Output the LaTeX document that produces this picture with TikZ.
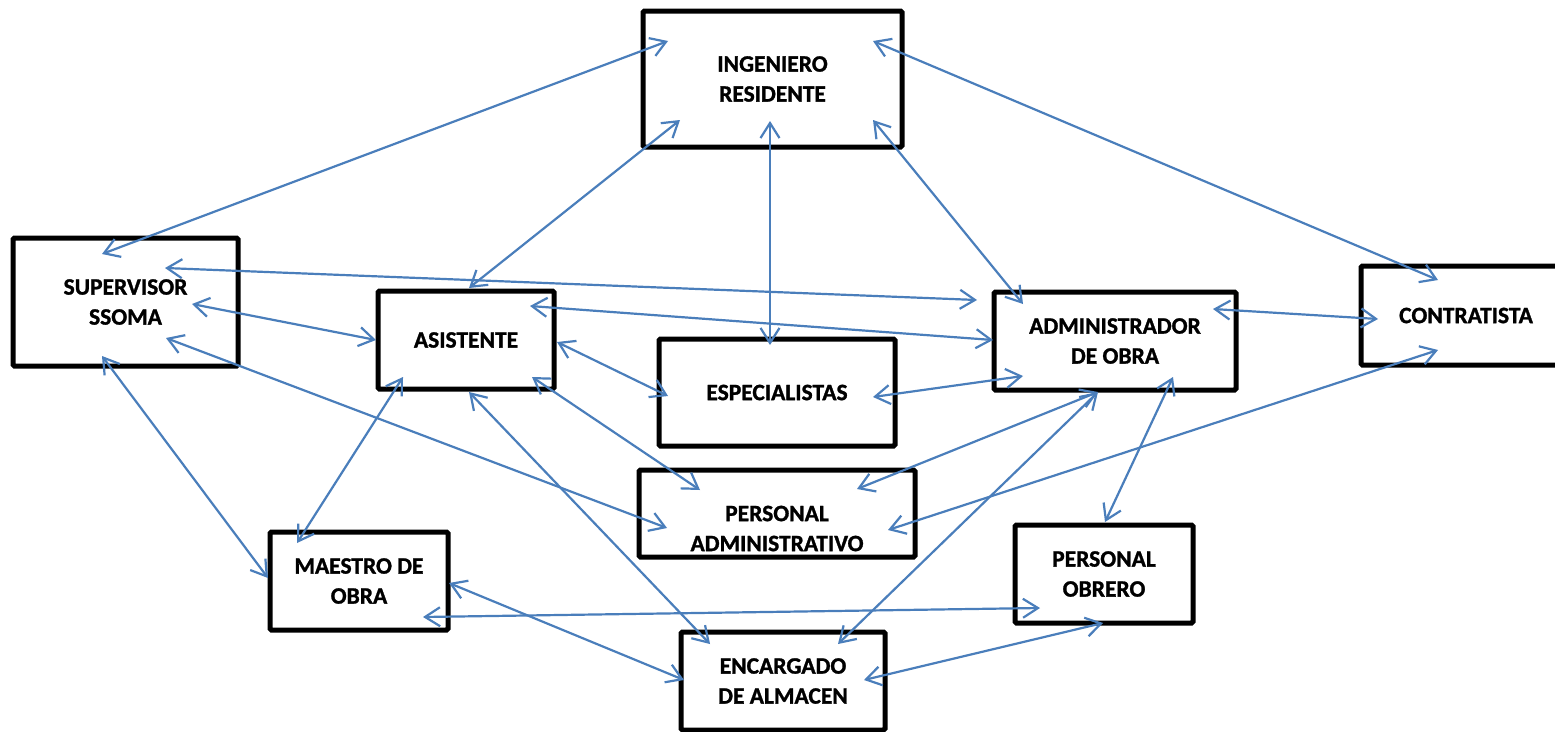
\documentclass[tikz,border=0pt]{standalone}
\usepackage{fontspec}
\setmainfont{Carlito}[BoldFeatures={FakeBold=1.2}]
\usetikzlibrary{arrows.meta}
\definecolor{linkblue}{HTML}{4A7EBB}
\begin{document}
\begin{tikzpicture}[x=1pt,y=-1pt,
  boxtext/.style={align=center,inner sep=0pt,font=\fontsize{23.5}{30}\selectfont\bfseries},
  box/.style={draw=black,line width=5pt,fill=white,rounded corners=1.5pt,boxtext},
  link/.style={draw=linkblue,line width=2.2pt,
    {Straight Barb[length=15pt,width=19pt]}-{Straight Barb[length=15pt,width=19pt]}}]
\useasboundingbox (0,0) rectangle (1555,731);

% boxes
\node[box,minimum width=259pt,minimum height=136pt] (ing) at (772.5,79) {INGENIERO\\RESIDENTE};
\node[box,minimum width=225pt,minimum height=128pt] (sup) at (125.5,302) {SUPERVISOR\\SSOMA};
\node[box,minimum width=176pt,minimum height=98pt] (asi) at (466,340) {ASISTENTE};
\node[box,minimum width=236pt,minimum height=107pt] (esp) at (777,392.5) {ESPECIALISTAS};
\node[box,minimum width=242pt,minimum height=98pt] (adm) at (1115,341) {ADMINISTRADOR\\DE OBRA};
\node[box,minimum width=210pt,minimum height=99pt] (con) at (1466,315.5) {CONTRATISTA};
\node[box,minimum width=276pt,minimum height=87pt,
  label={[boxtext,yshift=-15pt]center:PERSONAL\\ADMINISTRATIVO}] (pa) at (777,513.5) {};
\node[box,minimum width=178pt,minimum height=98pt] (mae) at (359,581) {MAESTRO DE\\OBRA};
\node[box,minimum width=178pt,minimum height=98pt] (po) at (1104,574) {PERSONAL\\OBRERO};
\node[box,minimum width=204pt,minimum height=98pt] (enc) at (783,681) {ENCARGADO\\DE ALMACEN};

% connector ends inside the boxes
\coordinate (ing-sup) at (668,41);   \coordinate (sup-ing) at (102,254);
\coordinate (ing-asi) at (680,120);  \coordinate (asi-ing) at (469,288);
\coordinate (ing-esp) at (770,121);  \coordinate (esp-ing) at (770,345);
\coordinate (ing-adm) at (873,120);  \coordinate (adm-ing) at (1023,304);
\coordinate (ing-con) at (873,41);   \coordinate (con-ing) at (1438,280);
\coordinate (sup-adm) at (165,268);  \coordinate (adm-sup) at (977,300);
\coordinate (sup-asi) at (192,304);  \coordinate (asi-sup) at (376,340);
\coordinate (sup-pa) at (166,338);   \coordinate (pa-sup) at (667,528);
\coordinate (sup-mae) at (102,356);  \coordinate (mae-sup) at (268,578);
\coordinate (asi-adm) at (530,306);  \coordinate (adm-asi) at (993,340);
\coordinate (asi-esp) at (557,342);  \coordinate (esp-asi) at (668,396);
\coordinate (asi-mae) at (403,377);  \coordinate (mae-asi) at (297,543);
\coordinate (asi-enc) at (469,392);  \coordinate (enc-asi) at (710,644);
\coordinate (asi-pa) at (532,377);   \coordinate (pa-asi) at (700,490);
\coordinate (esp-adm) at (873,397);  \coordinate (adm-esp) at (1023,376);
\coordinate (adm-con) at (1213,309); \coordinate (con-adm) at (1378,319);
\coordinate (adm-pa) at (1098,392);  \coordinate (pa-adm) at (857,489);
\coordinate (adm-enc) at (1098,392); \coordinate (enc-adm) at (838,644);
\coordinate (adm-po) at (1173,377);  \coordinate (po-adm) at (1105,522);
\coordinate (con-pa) at (1438,350);  \coordinate (pa-con) at (888,530);
\coordinate (mae-po) at (423,617);   \coordinate (po-mae) at (1040,608);
\coordinate (mae-enc) at (449,583);  \coordinate (enc-mae) at (684,680);
\coordinate (enc-po) at (864,680);   \coordinate (po-enc) at (1103,623);

% two-way connectors
\draw[link] (ing-sup) -- (sup-ing);
\draw[link] (ing-asi) -- (asi-ing);
\draw[link] (ing-esp) -- (esp-ing);
\draw[link] (ing-adm) -- (adm-ing);
\draw[link] (ing-con) -- (con-ing);
\draw[link] (sup-adm) -- (adm-sup);
\draw[link] (sup-asi) -- (asi-sup);
\draw[link] (sup-pa) -- (pa-sup);
\draw[link] (sup-mae) -- (mae-sup);
\draw[link] (asi-adm) -- (adm-asi);
\draw[link] (asi-esp) -- (esp-asi);
\draw[link] (asi-mae) -- (mae-asi);
\draw[link] (asi-enc) -- (enc-asi);
\draw[link] (asi-pa) -- (pa-asi);
\draw[link] (esp-adm) -- (adm-esp);
\draw[link] (adm-con) -- (con-adm);
\draw[link] (adm-pa) -- (pa-adm);
\draw[link] (adm-enc) -- (enc-adm);
\draw[link] (adm-po) -- (po-adm);
\draw[link] (con-pa) -- (pa-con);
\draw[link] (mae-po) -- (po-mae);
\draw[link] (mae-enc) -- (enc-mae);
\draw[link] (enc-po) -- (po-enc);
\end{tikzpicture}
\end{document}
